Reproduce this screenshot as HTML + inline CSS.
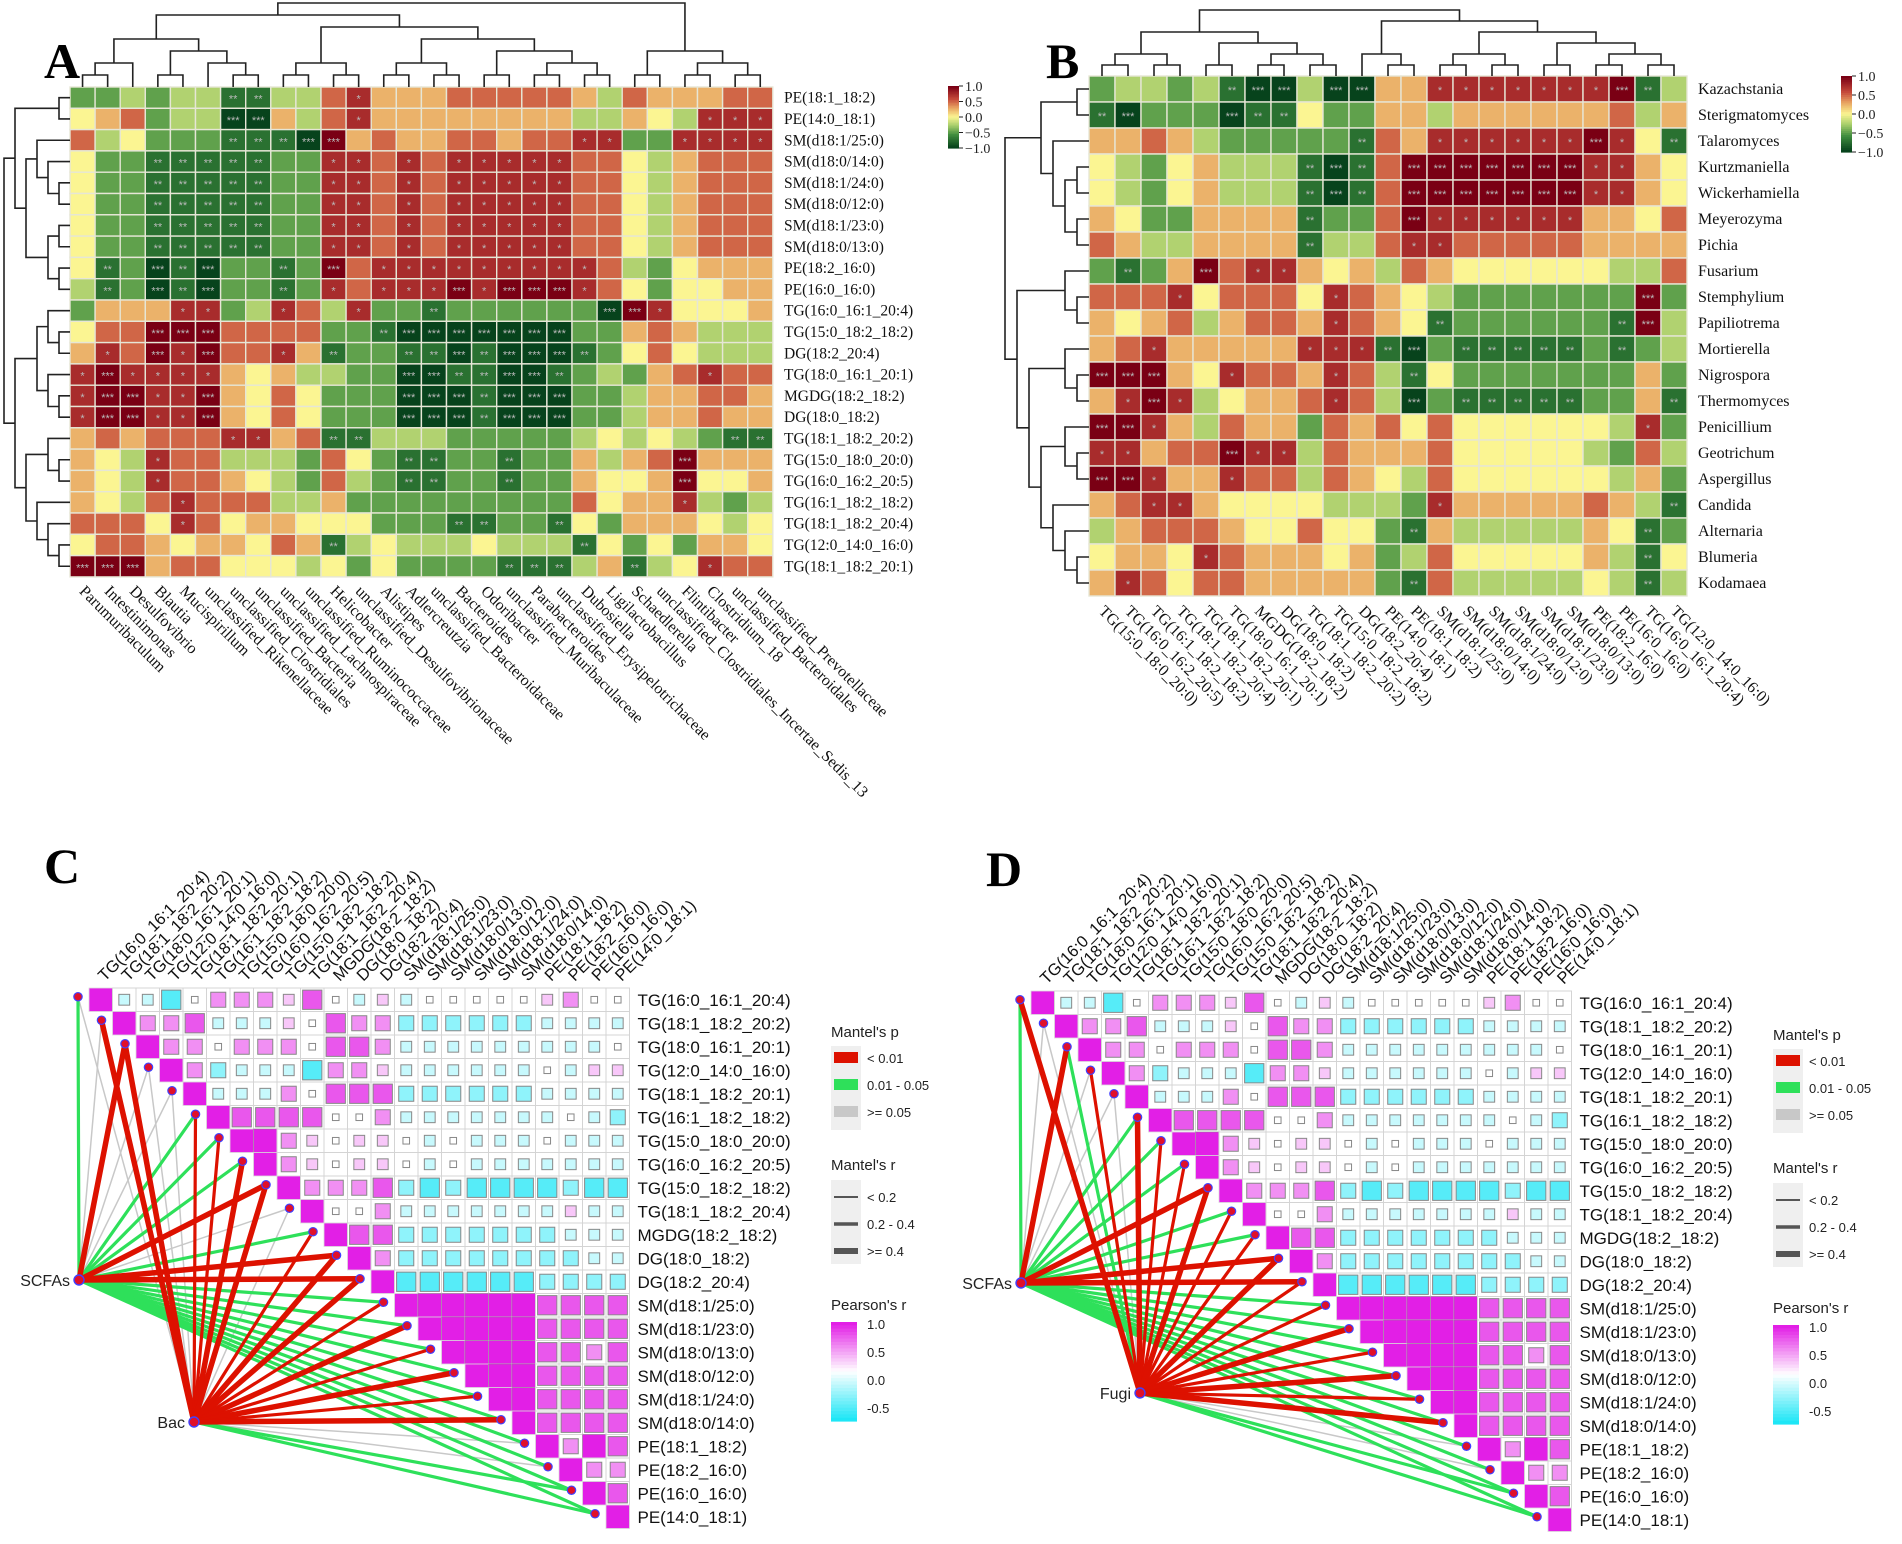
<!DOCTYPE html>
<html><head><meta charset="utf-8"><style>
html,body{margin:0;padding:0;background:#fff;}
svg{display:block;}
</style></head><body>
<svg id="fig" xmlns="http://www.w3.org/2000/svg" width="1902" height="1544" viewBox="0 0 1902 1544">
<rect width="1902" height="1544" fill="#fff"/>
<g id="pA"></g>
<g id="pB"></g>
<g id="pC"></g>
<g id="pD"></g>
</svg>
<script>
var aRows = ["PE(18:1_18:2)","PE(14:0_18:1)","SM(d18:1/25:0)","SM(d18:0/14:0)","SM(d18:1/24:0)","SM(d18:0/12:0)","SM(d18:1/23:0)","SM(d18:0/13:0)","PE(18:2_16:0)","PE(16:0_16:0)","TG(16:0_16:1_20:4)","TG(15:0_18:2_18:2)","DG(18:2_20:4)","TG(18:0_16:1_20:1)","MGDG(18:2_18:2)","DG(18:0_18:2)","TG(18:1_18:2_20:2)","TG(15:0_18:0_20:0)","TG(16:0_16:2_20:5)","TG(16:1_18:2_18:2)","TG(18:1_18:2_20:4)","TG(12:0_14:0_16:0)","TG(18:1_18:2_20:1)"];
var aCols = ["Parumuribaculum","Intestinimonas","Desulfovibrio","Blautia","Mucispirillum","unclassified_Rikenellaceae","unclassified_Clostridiales","unclassified_Bacteria","unclassified_Lachnospiraceae","unclassified_Ruminococcaceae","Helicobacter","unclassified_Desulfovibrionaceae","Alistipes","Adlercreutzia","unclassified_Bacteroidaceae","Bacteroides","Odoribacter","unclassified_Muribaculaceae","Parabacteroides","unclassified_Erysipelotrichaceae","Dubosiella","Ligilactobacillus","Schaedlerella","unclassified_Clostridiales_Incertae_Sedis_13","Flintibacter","Clostridium_18","unclassified_Bacteroidales","unclassified_Prevotellaceae"];
var aVals = [
"2232331133675556666653655566",
"4562330053675555555533543777",
"6342221110856556656677227777",
"4221111122776767777766435666",
"4221111122776767777766435666",
"4221111122776767777766435666",
"4221111122776767777766435666",
"4221111122776767777766435666",
"4120102212867777777776324555",
"3120102212767778788876424455",
"2555772376372212222220874445",
"4668886666221000000022565333",
"5768786675122110100012464333",
"7877775453322001100123256766",
"7887785464222000100022355665",
"7887785464222000100022355655",
"5656667756113332222234343211",
"5437663332642112212253568555",
"5437665432632112212254458445",
"5436766633522222222264557323",
"6664764554442221122142555434",
"4665455465134333433314242554",
"8885664443424222211135134766"
];
var bRows = ["Kazachstania","Sterigmatomyces","Talaromyces","Kurtzmaniella","Wickerhamiella","Meyerozyma","Pichia","Fusarium","Stemphylium","Papiliotrema","Mortierella","Nigrospora","Thermomyces","Penicillium","Geotrichum","Aspergillus","Candida","Alternaria","Blumeria","Kodamaea"];
var bCols = ["TG(15:0_18:0_20:0)","TG(16:0_16:2_20:5)","TG(16:1_18:2_18:2)","TG(18:1_18:2_20:4)","TG(18:1_18:2_20:1)","TG(18:0_16:1_20:1)","MGDG(18:2_18:2)","DG(18:0_18:2)","TG(18:1_18:2_20:2)","TG(15:0_18:2_18:2)","DG(18:2_20:4)","PE(14:0_18:1)","PE(18:1_18:2)","SM(d18:1/25:0)","SM(d18:0/14:0)","SM(d18:1/24:0)","SM(d18:0/12:0)","SM(d18:1/23:0)","SM(d18:0/13:0)","PE(18:2_16:0)","PE(16:0_16:0)","TG(16:0_16:1_20:4)","TG(12:0_14:0_16:0)"];
var bVals = [
"23323100300557777777813",
"10222011422553555555635",
"55653222221657777778741",
"43245333101688888887754",
"43245333101688888887754",
"54225555122687777775546",
"65335555133677666665555",
"21258677545365444444336",
"66674666476543222222282",
"54563566576541222222183",
"56755555777102111112123",
"88854766576314222222252",
"57873455676302111112251",
"88753655265646444444372",
"77566877365556444443263",
"88755766365436444444352",
"56775444433327555556531",
"35666544644215333335412",
"45547655545236444445314",
"57646655555216333334313"
];
var lipids = ["TG(16:0_16:1_20:4)","TG(18:1_18:2_20:2)","TG(18:0_16:1_20:1)","TG(12:0_14:0_16:0)","TG(18:1_18:2_20:1)","TG(16:1_18:2_18:2)","TG(15:0_18:0_20:0)","TG(16:0_16:2_20:5)","TG(15:0_18:2_18:2)","TG(18:1_18:2_20:4)","MGDG(18:2_18:2)","DG(18:0_18:2)","DG(18:2_20:4)","SM(d18:1/25:0)","SM(d18:1/23:0)","SM(d18:0/13:0)","SM(d18:0/12:0)","SM(d18:1/24:0)","SM(d18:0/14:0)","PE(18:1_18:2)","PE(18:2_16:0)","PE(16:0_16:0)","PE(14:0_18:1)"];
var pearsonUpper = ["3314666574353444445644","667333547662222223333","66466647763333333334","6233316653333334355","333647772222223333","77774463333333432","8654554343334333","654554343333333","66672121111211","4463333333533","772222222333","62222222233","1111112222","888887777","88887777","8887767","887777","87777","7777","687","66","7",""];
var cScfaP = [1,2,0,2,2,1,1,1,0,2,1,0,0,1,1,1,1,1,1,1,1,1,1];
var cScfaR = [1,0,2,0,0,1,1,1,2,0,1,2,2,1,1,1,1,1,1,1,1,1,1];
var cBacP  = [2,0,0,2,2,0,0,0,0,2,0,0,0,0,0,0,0,0,0,2,2,1,1];
var cBacR  = [0,2,2,0,0,1,1,2,2,0,1,2,2,1,2,1,2,1,2,0,0,1,1];
var dScfaP = [1,2,0,2,2,1,1,1,0,1,1,0,0,1,1,1,1,1,1,1,1,1,1];
var dScfaR = [1,0,2,0,0,1,1,1,2,1,1,2,2,1,1,1,1,1,1,1,1,1,1];
var dFugiP = [0,2,1,0,2,0,0,0,0,0,0,0,0,0,0,0,0,0,0,2,2,1,1];
var dFugiR = [2,0,1,1,0,2,1,1,2,1,1,2,1,1,2,1,2,1,2,0,0,1,1];

var NS="http://www.w3.org/2000/svg";
var SERIF="Liberation Serif, serif", SANS="Liberation Sans, sans-serif";
function el(tag, attrs, parent){var e=document.createElementNS(NS,tag);for(var k in attrs)e.setAttribute(k,attrs[k]);if(parent)parent.appendChild(e);return e;}
function hex(c){return [parseInt(c.slice(1,3),16),parseInt(c.slice(3,5),16),parseInt(c.slice(5,7),16)];}
function interp(stops,v){for(var i=0;i<stops.length-1;i++){var a=stops[i],b=stops[i+1];if(v<=b[0]){var t=(v-a[0])/(b[0]-a[0]);var ca=hex(a[1]),cb=hex(b[1]);var o=[];for(var q=0;q<3;q++)o.push(Math.round(ca[q]+(cb[q]-ca[q])*t));return 'rgb('+o.join(',')+')';}}return stops[stops.length-1][1];}
var heatStops=[[-1,'#07431c'],[-0.6,'#3f8c3d'],[-0.3,'#a2cb69'],[0,'#fbf592'],[0.3,'#e8a462'],[0.6,'#c4473a'],[1,'#7a0014']];
var pinkStops=[[-1,'#1ee6f6'],[0,'#ffffff'],[1,'#e21fe6']];
function dec(c){return (parseInt(c,10)-4)/4;}

function dendro(parent,tree,leafPos,orient,base,scale,name){
  var g=el('g',{},parent);
  
  
  function rec(n){ if(typeof n==='number') return {p:leafPos(n),h:0};
    var a=rec(n[0]),b=rec(n[1]);var h=Math.max(a.h,b.h)+1;
    var H=base-h*scale, ha=base-a.h*scale, hb=base-b.h*scale;
    var d;
    if(orient==='top') d='M'+a.p+','+ha+'V'+H+'H'+b.p+'V'+hb;
    else d='M'+ha+','+a.p+'H'+H+'V'+b.p+'H'+hb;
    el('path',{d:d,stroke:'#222','stroke-width':1.6,fill:'none'},g);
    return {p:(a.p+b.p)/2,h:h};}
  rec(tree);
}

function heatmap(gid, rows, cols, vals, x0, y0, cw, ch, rowLabX, colLabY, prefix, fs){
  var g=document.getElementById(gid);
  for(var i=0;i<vals.length;i++){var rs=vals[i]; for(var j=0;j<cols.length;j++){ var v=dec(rs.charAt(j));
    var r=el('rect',{x:x0+j*cw,y:y0+i*ch,width:cw,height:ch,fill:interp(heatStops,v),stroke:'#e6e6d6','stroke-width':1.4},g);
    
    
    var d=rs.charAt(j); var star = (d==='0'||d==='8')?'***':(d==='1'?'**':(d==='7'?'*':''));
    if(star){var s=el('text',{x:x0+j*cw+cw/2,y:y0+i*ch+ch/2+5,'text-anchor':'middle','font-size':11,fill:'#bbb','font-family':SANS},g);s.textContent=star;}
  }}
  for(var i2=0;i2<rows.length;i2++){var tx=el('text',{x:rowLabX,y:y0+i2*ch+ch/2+5,'font-size':fs,fill:'#111','font-family':SERIF},g);tx.textContent=rows[i2];
    
    }
  for(var j2=0;j2<cols.length;j2++){var cx=x0+j2*cw+cw/2-4;var tc=el('text',{x:cx,y:colLabY,'font-size':16,fill:'#111','font-family':SERIF,transform:'rotate(45 '+cx+' '+colLabY+')'},g);tc.textContent=cols[j2];
    
    }
  return g;
}
function colorbar(g,x,y,w,h,name){
  var gg=el('g',{},g);
  
  
  var n=40;for(var k=0;k<n;k++){var v=1-2*k/(n-1);el('rect',{x:x,y:y+k*h/n,width:w,height:h/n+0.6,fill:interp(heatStops,v)},gg);}
  var labs=['1.0','0.5','0.0','\u22120.5','\u22121.0'];
  for(var k2=0;k2<5;k2++){var yy=y+k2*h/4;el('line',{x1:x+w,x2:x+w+4,y1:yy,y2:yy,stroke:'#222'},gg);var tx=el('text',{x:x+w+6,y:yy+5,'font-size':14,'font-family':SERIF,fill:'#222'},gg);tx.textContent=labs[k2];}
}
function panelLabel(g,t,x,y){var tx=el('text',{x:x,y:y,'font-size':50,'font-weight':'bold','font-family':SERIF,fill:'#000'},g);tx.textContent=t;
  
  }

try{
  var x0=70,y0=87,cw=25.1,ch=21.3;
  var g=heatmap('pA',aRows,aCols,aVals,x0,y0,cw,ch,784,592,'a',15.5);
  panelLabel(g,'A',44,78);
  colorbar(g,948,86,11,62,'legend-a');
  var colTree=[[[[[0,1],2],[[3,4],[5,[6,7]]]],[[[8,9],[10,11]],[[[12,13],[14,15]],[[16,17],[[18,19],[20,21]]]]]],[[22,23],[[24,25],[26,27]]]];
  dendro(g,colTree,function(j){return x0+j*cw+cw/2;},'top',y0,12,'column-dendrogram');
  var rowTree=[[[0,1],[[2,[3,[4,5]]],[[6,7],[8,9]]]],[[[10,[11,12]],[13,[14,15]]],[[16,[17,18]],[19,[20,[21,22]]]]]];
  dendro(g,rowTree,function(i){return y0+i*ch+ch/2;},'left',x0,11,'row-dendrogram');
}catch(e){console.log(e);}
try{
  var bx0=1089,by0=76,bc=26;
  var gb=heatmap('pB',bRows,bCols,bVals,bx0,by0,bc,bc,1698,612,'b',16);
  panelLabel(gb,'B',1046,78);
  colorbar(gb,1841,76,11,76,'legend-b');
  var bColTree=[[[[0,1],[2,3]],[[4,5],[[6,7],[8,9]]]],[[10,[11,12]],[[[13,14],[15,16]],[[17,18],[[19,20],[21,22]]]]]];
  dendro(gb,bColTree,function(j){return bx0+j*bc+bc/2;},'top',by0,11,'column-dendrogram');
  var bRowTree=[[[0,1],[2,[[3,4],[5,6]]]],[[7,[8,9]],[[10,[11,12]],[[13,[14,15]],[16,[17,[18,19]]]]]]];
  dendro(gb,bRowTree,function(i){return by0+i*bc+bc/2;},'left',bx0,12,'row-dendrogram');
}catch(e){console.log(e);}

function mantelPanel(gid, dx, dy, letter, nodeName, scfaP, scfaR, otherP, otherR, other){
  var g=document.getElementById(gid);
  panelLabel(g,letter,44+dx,883+dy);
  var x0=89+dx,y0=988+dy,c=23.5,n=lipids.length;
  var pColor=['#dd1100','#2ee05a','#c8c8c8'], rW=[1.5,3.2,5.5];
  var scfa={x:79+dx,y:1280+dy}, oth={x:other.x+dx,y:other.y+dy};
  function dotPos(i){return {x:x0+i*c-11,y:y0+i*c+c/2-3};}
  var srcs=[[scfa,scfaP,scfaR],[oth,otherP,otherR]];
  for(var pc=2;pc>=0;pc--){
    for(var s=0;s<2;s++){var src=srcs[s][0],P=srcs[s][1],R=srcs[s][2];
      for(var i=0;i<P.length;i++){ if(P[i]!==pc) continue; var d=dotPos(i);
        var l=el('line',{x1:src.x,y1:src.y,x2:d.x,y2:d.y,stroke:pColor[P[i]],'stroke-width':rW[R[i]],'stroke-linecap':'round'},g);
        
        
      }}
  }
  for(var i=0;i<n;i++){
    var diag=el('rect',{x:x0+i*c,y:y0+i*c,width:c,height:c,fill:'#e21fe6',stroke:'#ddd','stroke-width':0.8},g);
    
    
    var rs=pearsonUpper[i];
    for(var k=0;k<rs.length;k++){ var j=i+1+k; var v=dec(rs.charAt(k));
      var cx=x0+j*c, cy=y0+i*c;
      el('rect',{x:cx,y:cy,width:c,height:c,fill:'#fff',stroke:'#d4d4d4','stroke-width':1},g);
      var sz=c*(0.28+0.72*Math.abs(v));
      var sq=el('rect',{x:cx+(c-sz)/2,y:cy+(c-sz)/2,width:sz,height:sz,fill:interp(pinkStops,v),stroke:'#888','stroke-width':Math.abs(v)>0.9?0.5:1},g);
      
      
    }
  }
  for(var i3=0;i3<n;i3++){var dp=dotPos(i3);var ci=el('circle',{cx:dp.x,cy:dp.y,r:4.2,fill:'#e0102a',stroke:'#4040ff','stroke-width':1.2},g);
    
    }
  var nodes=[[scfa,'SCFAs'],[oth,nodeName]];
  for(var q=0;q<2;q++){var p=nodes[q][0];el('circle',{cx:p.x,cy:p.y,r:5,fill:'#e0102a',stroke:'#4040ff','stroke-width':1.4},g);
    var tn=el('text',{x:p.x-9,y:p.y+6,'text-anchor':'end','font-size':16,'font-family':SANS,fill:'#222'},g);tn.textContent=nodes[q][1];
    
    }
  for(var i4=0;i4<n;i4++){var t=lipids[i4];
    var tx=el('text',{x:x0+n*c+8,y:y0+i4*c+c/2+6,'font-size':17,'font-family':SANS,fill:'#111'},g);tx.textContent=t;
    
    
    var ccx=x0+i4*c+c/2+4, ccy=y0-6;
    var t2=el('text',{x:ccx,y:ccy,'font-size':16.5,'font-family':SANS,fill:'#111',transform:'rotate(-45 '+ccx+' '+ccy+')'},g);t2.textContent=t;
    
    }
  var lx=831+dx, lg=el('g',{},g);
  
  
  function T(x,y,t,fs){var tt=el('text',{x:x,y:y,'font-size':fs||14,'font-family':SANS,fill:'#222'},lg);tt.textContent=t;}
  T(lx,1037+dy,"Mantel's p",15);
  el('rect',{x:lx,y:1046+dy,width:30,height:84,fill:'#efefef'},lg);
  var pl=['< 0.01','0.01 - 0.05','>= 0.05'];
  for(var k2=0;k2<3;k2++){el('rect',{x:lx+3,y:1052+dy+k2*27,width:24,height:11,fill:pColor[k2]},lg);T(lx+36,1063+dy+k2*27,pl[k2],13);}
  T(lx,1170+dy,"Mantel's r",15);
  el('rect',{x:lx,y:1180+dy,width:30,height:84,fill:'#efefef'},lg);
  var rl=['< 0.2','0.2 - 0.4','>= 0.4'],rw=[2,3.5,6];
  for(var k3=0;k3<3;k3++){el('line',{x1:lx+3,x2:lx+27,y1:1197+dy+k3*27,y2:1197+dy+k3*27,stroke:'#555','stroke-width':rw[k3]},lg);T(lx+36,1202+dy+k3*27,rl[k3],13);}
  T(lx,1310+dy,"Pearson's r",15);
  var nb=30;for(var k4=0;k4<nb;k4++){var vv=1-2*k4/(nb-1);el('rect',{x:lx,y:1322+dy+k4*3.3,width:26,height:3.9,fill:interp(pinkStops,vv)},lg);}
  var pr=['1.0','0.5','0.0','-0.5'];
  for(var k5=0;k5<4;k5++)T(lx+36,1329+dy+k5*28,pr[k5],13);
}
try{ mantelPanel('pC',0,0,'C','Bac',cScfaP,cScfaR,cBacP,cBacR,{x:194,y:1422}); }catch(e){console.log(e);}
try{ mantelPanel('pD',942,3,'D','Fugi',dScfaP,dScfaR,dFugiP,dFugiR,{x:198,y:1390}); }catch(e){console.log(e);}
</script>
</body></html>
